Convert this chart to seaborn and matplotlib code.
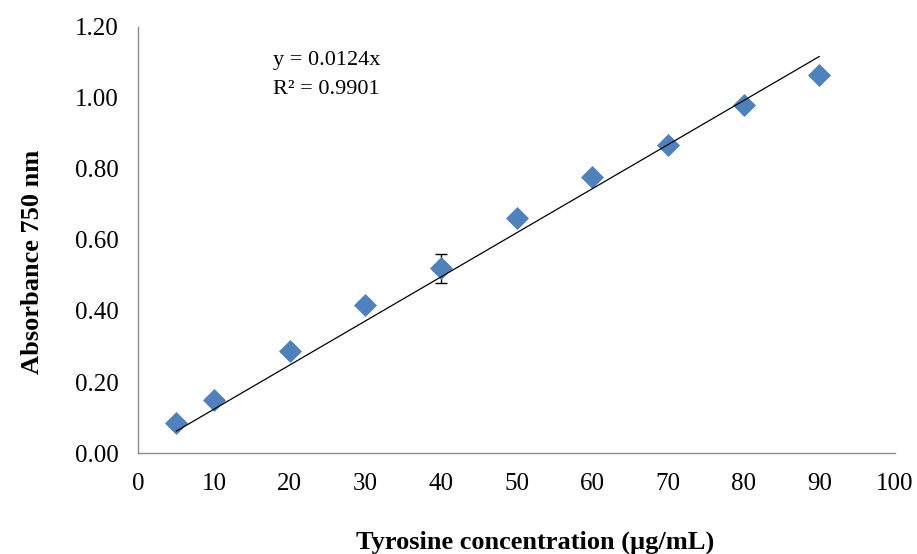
import matplotlib
matplotlib.use("Agg")
import matplotlib.pyplot as plt
import seaborn as sns
import numpy as np
import pandas as pd

conc = [5, 10, 20, 30, 40, 50, 60, 70, 80, 90]
absorb = [0.084, 0.149, 0.287, 0.416, 0.520, 0.661, 0.776, 0.866, 0.979, 1.063]
err = [0.005, 0.005, 0.005, 0.008, 0.040, 0.005, 0.005, 0.005, 0.010, 0.005]
slope = 0.0124
x_ticks = [0, 10, 20, 30, 40, 50, 60, 70, 80, 90, 100]
y_ticks = [0.0, 0.2, 0.4, 0.6, 0.8, 1.0, 1.2]

df = pd.DataFrame({"conc": conc, "abs": absorb, "err": err})

sns.set_style("white")
plt.rcParams['font.family'] = ['Liberation Serif', 'DejaVu Serif']
plt.rcParams['text.color'] = 'black'
plt.rcParams['axes.labelcolor'] = 'black'

fig = plt.figure(figsize=(9.17, 5.54), dpi=100)
ax = fig.add_axes([0.151, 0.182, 0.825, 0.770])

ax.errorbar(df["conc"], df["abs"], yerr=df["err"], fmt="none", ecolor="black",
            elinewidth=1, capsize=4, capthick=1, zorder=2)
sns.scatterplot(data=df, x="conc", y="abs", marker="D", s=125, color="#4F81BD",
                edgecolor="#4A7EBB", linewidth=0.5, ax=ax, zorder=3)
xl = np.array([conc[0], conc[-1]])
sns.lineplot(x=xl, y=slope * xl, color="black", linewidth=0.9, ax=ax, zorder=4)

ax.set_xlim(0, 100)
ax.set_ylim(0, 1.2)
ax.set_xticks(x_ticks)
ax.set_yticks(y_ticks)
ax.set_yticklabels([f"{v:.2f}" for v in y_ticks])
ax.tick_params(axis="both", labelsize=18, labelcolor="black", direction="out",
               length=6, color="#8c8c8c", width=1)
ax.tick_params(axis="x", pad=8)
ax.tick_params(axis="y", pad=8)
for s in ["top", "right"]:
    ax.spines[s].set_visible(False)
for s in ["left", "bottom"]:
    ax.spines[s].set_color("#8c8c8c")
    ax.spines[s].set_linewidth(1)

ax.set_xlabel("Tyrosine concentration (µg/mL)", fontsize=19, fontweight="bold")
ax.set_ylabel("Absorbance 750 nm", fontsize=19, fontweight="bold")
ax.xaxis.set_label_coords(0.524, -0.182)
ax.yaxis.set_label_coords(-0.125, 0.448)

ax.text(0.178, 0.92, "y = 0.0124x", transform=ax.transAxes, fontsize=16, va="center")
ax.text(0.178, 0.853, "R² = 0.9901", transform=ax.transAxes, fontsize=16, va="center")

fig.savefig("out.png", dpi=100)
